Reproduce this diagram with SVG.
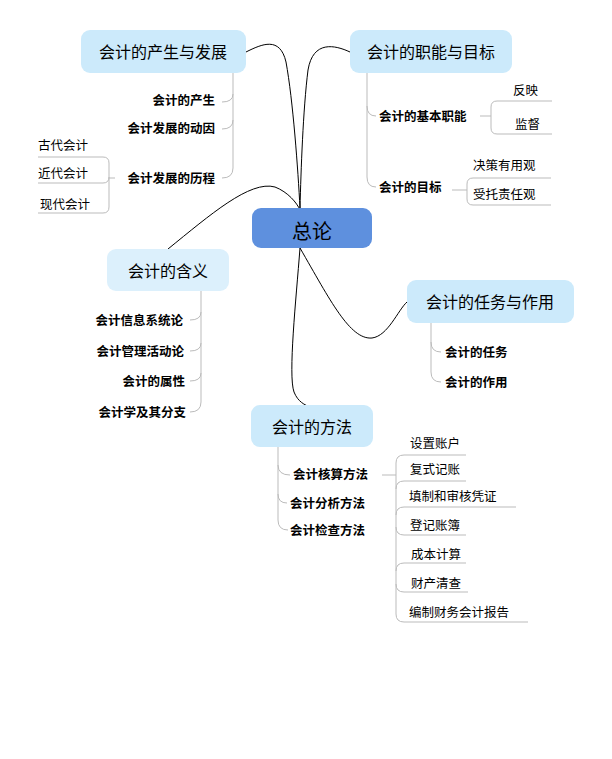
<svg xmlns="http://www.w3.org/2000/svg" width="612" height="759" viewBox="0 0 612 759">
<style>
text{font-family:"Noto Sans CJK SC","Noto Sans",sans-serif;fill:#000}
.m{font-size:16px;text-anchor:middle}
.c{font-size:12.5px;font-weight:bold}
.r{text-anchor:end}
.l{font-size:12.5px}
.box{fill:#cceafb}
.br{fill:none;stroke:#bbb;stroke-width:1}
.cn{fill:none;stroke:#000;stroke-width:1}
</style>
<rect width="612" height="759" fill="#fff"/>
<g id="connectors">
<path class="cn" d="M246,52 C262,44 280,36 286,62 C293,100 298,170 300,208"/>
<path class="cn" d="M350,52 C335,45 313,40 308,70 C303,110 301,170 300,208"/>
<path class="cn" d="M168,249 C210,215 250,180 275,187 C288,192 297,203 300,210"/>
<path class="cn" d="M300,248 C330,300 350,340 372,338 C388,336 398,310 407,302"/>
<path class="cn" d="M300,248 C296,300 288,375 294,392 C298,402 305,405 310,407"/>
</g>
<g id="root"><rect x="252" y="208" width="120" height="40" rx="9" fill="#5e90de"/><text class="m" x="312" y="239" style="font-size:20px">总论</text></g>
<g id="n1"><rect class="box" x="81" y="30" width="165" height="43" rx="9"/><text class="m" x="163" y="58">会计的产生与发展</text>
<path class="br" d="M233,73 V168 Q233,178 222,178 M233,94 Q233,102 222,102 M233,120 Q233,129 222,129"/>
<text class="c r" x="215" y="105">会计的产生</text><text class="c r" x="215" y="133">会计发展的动因</text><text class="c r" x="215" y="183">会计发展的历程</text>
<path class="br" d="M115,178 H109 M38,157 H103 Q109,157 109,163 V207 Q109,213 103,213 H38 M38,183 H103 Q109,183 109,177"/>
<text class="l" x="38" y="150">古代会计</text><text class="l" x="38" y="178">近代会计</text><text class="l" x="40" y="209">现代会计</text></g>
<g id="n2"><rect class="box" x="350" y="30" width="162" height="43" rx="9"/><text class="m" x="431" y="58">会计的职能与目标</text>
<path class="br" d="M367,73 V177 Q367,187 376,187 M367,106 Q367,116 376,116"/>
<text class="c" x="379" y="121">会计的基本职能</text><text class="c" x="379" y="192">会计的目标</text>
<path class="br" d="M480,116 H491 M552,101 H497 Q491,101 491,107 V128 Q491,134 497,134 H552"/>
<text class="l" x="513" y="95">反映</text><text class="l" x="515" y="129">监督</text>
<path class="br" d="M452,190 H467 M551,178 H473 Q467,178 467,184 V199 Q467,205 473,205 H551"/>
<text class="l" x="473" y="170">决策有用观</text><text class="l" x="473" y="199">受托责任观</text></g>
<g id="n3"><rect x="107" y="249" width="122" height="42" rx="9" fill="#dcf0fc"/><text class="m" x="168" y="277">会计的含义</text>
<path class="br" d="M201,291 V402 Q201,412 190,412 M201,312 Q201,320 190,320 M201,343 Q201,351 190,351 M201,373 Q201,381 190,381"/>
<text class="c r" x="183" y="325">会计信息系统论</text><text class="c r" x="184" y="356">会计管理活动论</text><text class="c r" x="185" y="386">会计的属性</text><text class="c r" x="186" y="417">会计学及其分支</text></g>
<g id="n4"><rect class="box" x="407" y="280" width="167" height="43" rx="9"/><text class="m" x="490" y="308">会计的任务与作用</text>
<path class="br" d="M431,323 V372 Q431,382 441,382 M431,342 Q431,352 441,352"/>
<text class="c" x="445" y="357">会计的任务</text><text class="c" x="445" y="387">会计的作用</text></g>
<g id="n5"><rect class="box" x="251" y="405" width="122" height="42" rx="9"/><text class="m" x="312" y="433">会计的方法</text>
<path class="br" d="M278,447 V520 Q278,530 288,530 M278,465 Q278,475 290,475 M278,494 Q278,503 287,503"/>
<text class="c" x="293" y="479">会计核算方法</text><text class="c" x="290" y="508">会计分析方法</text><text class="c" x="290" y="535">会计检查方法</text>
<path class="br" d="M382,475 H396 M466,455 H404 Q396,455 396,463 V614 Q396,622 404,622 H528 M396,489 Q396,481 404,481 H466 M396,515 Q396,507 404,507 H516 M396,527 Q396,535 404,535 H466 M396,571 Q396,563 404,563 H466 M396,584 Q396,592 404,592 H468"/>
<text class="l" x="410" y="448">设置账户</text><text class="l" x="410" y="474">复式记账</text><text class="l" x="409" y="501">填制和审核凭证</text><text class="l" x="410" y="530">登记账簿</text><text class="l" x="411" y="559">成本计算</text><text class="l" x="411" y="588">财产清查</text><text class="l" x="409" y="617">编制财务会计报告</text></g>
</svg>
